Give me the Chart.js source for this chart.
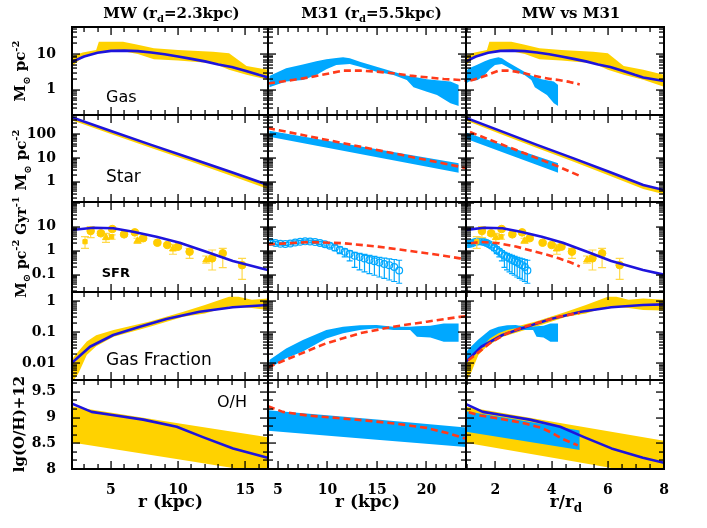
<!DOCTYPE html>
<html><head><meta charset="utf-8">
<script src="https://cdn.jsdelivr.net/npm/chart.js@4.4.0/dist/chart.umd.min.js"></script>
<style>
html,body{margin:0;padding:0;background:#fff;}
#wrap{position:relative;width:707px;height:528px;overflow:hidden;background:#fff;}
#wrap canvas{position:absolute;left:0;top:0;}
</style></head><body><div id="wrap"></div>
<script>
// ================= DATA =================
const RD_MW = 2.3, RD_M31 = 5.5;

// --- Gas surface density (Msun/pc^2)
const mwGasR      = [2.0, 3.0, 4.0, 5.0, 6.0, 7.0, 8.0, 9.0, 10.0, 11.0, 12.0, 13.0, 14.0, 15.0, 16.0, 16.7, 18.4];
const mwGasModel  = [5.8, 8.5, 10.8, 12.2, 12.4, 12.0, 11.0, 9.8, 8.5, 7.3, 6.2, 5.1, 4.3, 3.4, 2.6, 2.2, 1.75];
const mwGasObsR   = [2.0, 2.9, 3.9, 4.1, 5.9, 7.0, 8.2, 10.0, 12.6, 13.8, 15.1, 16.7, 18.4];
const mwGasObsHi  = [8.5, 11, 13, 22, 22, 18, 14.5, 13, 11.5, 10.5, 4.6, 3.6, 2.6];
const mwGasObsLo  = [4.3, 8, 10.5, 11, 12, 10, 7.1, 6.6, 5.5, 3.6, 2.6, 1.9, 1.2];
const m31GasObsR  = [4.13, 5.83, 7.52, 8.88, 9.89, 10.9, 11.58, 12.26, 13.28, 14.97, 16.67, 18.02, 18.7, 20.05, 21.07, 22.43, 23.27];
const m31GasObsHi = [2.42, 3.97, 5.1, 6.3, 7.08, 7.7, 8.07, 7.56, 6.1, 4.42, 3.2, 2.5, 2.3, 1.95, 1.85, 1.7, 1.35];
const m31GasObsLo = [1.17, 1.68, 1.87, 2.58, 3.72, 4.92, 5.1, 5.2, 4.42, 3.2, 2.58, 1.87, 1.17, 0.88, 0.71, 0.416, 0.35];
const m31GasR     = [4.0, 6.5, 8.2, 9.89, 11.58, 13.28, 14.97, 16.67, 18.36, 20.05, 21.75, 23.38, 25.5, 27.5];
const m31GasModel = [1.48, 1.87, 2.22, 2.75, 3.41, 3.41, 3.2, 2.87, 2.47, 2.22, 1.99, 1.87, 1.65, 1.4];

// --- Stellar surface density
const mwStarR      = [2.0, 5.0, 8.0, 11.0, 14.0, 16.7, 18.4];
const mwStarModel  = [520, 135, 35, 9.5, 2.5, 0.73, 0.45];
const mwStarObsHi  = [540, 140, 36, 9.8, 2.6, 0.76, 0.47];
const mwStarObsLo  = [400, 100, 26, 6.8, 1.75, 0.5, 0.3];
const m31StarObsR  = [4.13, 13.7, 23.27];
const m31StarObsHi = [137, 28.5, 5.9];
const m31StarObsLo = [77, 13.6, 2.4];
const m31StarR     = [4.0, 10.0, 16.0, 23.38, 27.5];
const m31StarModel = [178, 56, 17.7, 4.26, 1.75];

// --- SFR surface density
const mwSfrR      = [2.0, 3.68, 5.17, 6.65, 8.39, 10.12, 12.1, 14.08, 16.68, 18.4];
const mwSfrModel  = [7.2, 9.1, 8.6, 6.2, 3.8, 2.15, 0.91, 0.37, 0.157, 0.1];
const mwSfrCircR  = [3.49, 4.25, 5.1, 5.98, 6.78, 7.4, 8.46, 9.2, 10.0, 10.86, 12.54, 13.33, 14.77];
const mwSfrCirc   = [6.6, 5.3, 8.0, 4.8, 5.8, 3.3, 2.15, 1.73, 1.47, 0.91, 0.48, 0.78, 0.25];
const mwSfrCircLo = [3.5, 4.3, 6.8, 4.2, 5.0, 2.9, 1.9, 1.5, 1.3, 0.48, 0.157, 0.196, 0.064];
const mwSfrCircHi = [10, 6.4, 9.4, 5.5, 6.7, 3.8, 2.45, 2.0, 1.65, 1.26, 1.07, 1.26, 0.48];
const mwSfrTriR   = [4.63, 6.98, 9.62, 12.1];
const mwSfrTri    = [3.5, 2.6, 1.18, 0.41];
const mwSfrTriLo  = [2.24, 2.0, 0.71, 0.3];
const mwSfrTriHi  = [5.3, 3.3, 1.85, 0.6];
const mwSfrSqR    = [3.07, 5.05];
const mwSfrSq     = [2.37, 3.8];
const mwSfrSqLo   = [1.26, 3.0];
const mwSfrSqHi   = [3.83, 4.6];
const m31SfrObsR  = [4.25, 4.75, 5.25, 5.75, 6.25, 6.75, 7.25, 7.75, 8.25, 8.75, 9.25, 9.75, 10.25, 10.75, 11.25, 11.75, 12.25, 12.75, 13.25, 13.75, 14.25, 14.75, 15.25, 15.75, 16.25, 16.75, 17.25];
const m31SfrObs   = [2.3, 2.1, 1.95, 1.9, 2.0, 2.2, 2.35, 2.45, 2.4, 2.3, 2.1, 1.85, 1.6, 1.35, 1.1, 0.9, 0.75, 0.62, 0.55, 0.47, 0.41, 0.36, 0.32, 0.28, 0.25, 0.21, 0.15];
const m31SfrObsLo = [1.95, 1.8, 1.7, 1.65, 1.75, 1.9, 2.05, 2.15, 2.1, 2.0, 1.8, 1.55, 1.3, 1.0, 0.75, 0.55, 0.38, 0.2, 0.16, 0.13, 0.11, 0.095, 0.08, 0.07, 0.06, 0.052, 0.044];
const m31SfrObsHi = [2.7, 2.45, 2.25, 2.2, 2.3, 2.55, 2.7, 2.8, 2.75, 2.65, 2.45, 2.2, 1.95, 1.7, 1.45, 1.2, 1.0, 0.85, 0.78, 0.7, 0.64, 0.58, 0.53, 0.49, 0.46, 0.43, 0.4];
const m31SfrR     = [4.0, 6.5, 8.2, 11.58, 14.97, 18.36, 21.75, 23.38, 25.5, 27.5];
const m31SfrModel = [1.83, 2.1, 2.3, 2.05, 1.5, 0.97, 0.62, 0.48, 0.34, 0.22];

// --- Gas fraction
const mwFgR       = [2.0, 3.44, 5.17, 7.15, 9.13, 11.6, 14.08, 16.68, 18.4];
const mwFgModel   = [0.0095, 0.034, 0.081, 0.15, 0.264, 0.45, 0.63, 0.74, 0.78];
const mwFgObsR    = [2.0, 2.6, 3.2, 3.9, 5.2, 7.9, 10.4, 12.0, 13.8, 14.5, 15.5, 16.7, 18.4];
const mwFgObsHi   = [0.012, 0.025, 0.05, 0.08, 0.117, 0.22, 0.45, 0.74, 1.37, 1.37, 1.1, 1.2, 1.1];
const mwFgObsLo   = [0.002, 0.005, 0.0185, 0.035, 0.071, 0.15, 0.31, 0.40, 0.66, 0.64, 0.6, 0.51, 0.5];
const m31FgObsR   = [4.13, 5.83, 7.52, 9.89, 11.58, 13.28, 14.97, 16.67, 18.36, 19.04, 20.4, 21.75, 23.27];
const m31FgObsHi  = [0.0128, 0.03, 0.056, 0.117, 0.15, 0.167, 0.17, 0.15, 0.15, 0.155, 0.16, 0.19, 0.19];
const m31FgObsLo  = [0.0069, 0.0145, 0.024, 0.063, 0.092, 0.117, 0.133, 0.117, 0.117, 0.071, 0.067, 0.049, 0.049];
const m31FgR      = [4.0, 6.5, 9.89, 13.28, 16.67, 20.05, 23.38, 27.5];
const m31FgModel  = [0.0075, 0.016, 0.044, 0.092, 0.15, 0.217, 0.31, 0.42];

// --- Metallicity 12+log(O/H)
const mwOhR       = [2.0, 3.56, 5.1, 7.4, 9.9, 11.85, 14.1, 16.67, 18.4];
const mwOhModel   = [9.28, 9.11, 9.05, 8.96, 8.82, 8.62, 8.40, 8.22, 8.12];
const mwOhObsR    = [2.0, 10.0, 18.4];
const mwOhObsHi   = [9.22, 8.89, 8.55];
const mwOhObsLo   = [8.52, 8.19, 7.84];
const m31OhObsR   = [3.5, 15.0, 27.5];
const m31OhObsHi  = [9.15, 8.96, 8.75];
const m31OhObsLo  = [8.75, 8.57, 8.37];
const m31OhR      = [4.0, 5.5, 8.0, 11.0, 14.0, 17.0, 20.0, 22.3, 24.0, 27.1];
const m31OhModel  = [9.22, 9.11, 9.04, 8.99, 8.94, 8.88, 8.80, 8.69, 8.59, 8.46];

// --- axes / ticks
const xRanges   = [[2.1, 16.7], [4, 24], [0.95, 8]];
const xLabels   = [[5, 10, 15], [5, 10, 15, 20], [2, 4, 6, 8]];
const yRanges   = [[0.195, 57], [0.141, 627], [0.019, 107], [0.00291, 1.945], [8, 9.73]];
const yLabels   = [[1, 10], [1, 10, 100], [0.1, 1, 10], [0.01, 0.1, 1], [8, 8.5, 9, 9.5]];
const yLog      = [true, true, true, true, false];

// ================= LAYOUT =================
const W = 707, H = 528;
const E = [72, 268, 466, 664];           // column edges
const R = [27, 115, 202, 292, 380, 469]; // row edges
const SERIF = '"DejaVu Serif", serif', SANS = '"DejaVu Sans", sans-serif';
const COL = {gold:'#ffd200', cyan:'#00a8ff', blue:'#1e14dc', red:'#ff3a1a', goldPt:'#ffcc00', goldErr:'#ffd94a'};

function pts(rs, vs, s) { return rs.map((r, i) => ({x: r / s, y: vs[i]})); }
function band(rs, hi, lo, color, s, order) {
  return [
    {data: pts(rs, hi, s), borderColor: 'rgba(0,0,0,0)', borderWidth: 0, pointRadius: 0, fill: '+1', backgroundColor: color, order},
    {data: pts(rs, lo, s), borderColor: 'rgba(0,0,0,0)', borderWidth: 0, pointRadius: 0, fill: false, backgroundColor: color, order}
  ];
}
function model(rs, vs, s, color, dash, order) {
  return {data: pts(rs, vs, s), borderColor: color, borderWidth: 2.6, borderDash: dash, pointRadius: 0,
          fill: false, order, borderCapStyle: 'butt', borderJoinStyle: 'round'};
}
function obs(rs, vs, lo, hi, s, o) {
  return {data: pts(rs, vs, s), showLine: false, pointRadius: o.r, pointStyle: o.style,
          pointBackgroundColor: o.fillC, pointBorderColor: o.lineC, pointBorderWidth: o.bw,
          errLo: lo, errHi: hi, errColor: o.errC, capW: o.cap, order: o.order};
}

const goldCirc = {r: 3.8, style: 'circle', fillC: COL.goldPt, lineC: COL.goldPt, bw: 1, errC: COL.goldErr, cap: 4, order: 2};
const goldTri  = {r: 4, style: 'triangle', fillC: COL.goldPt, lineC: COL.goldPt, bw: 1, errC: COL.goldErr, cap: 4, order: 2};
const goldSq   = {r: 3, style: 'rect', fillC: COL.goldPt, lineC: COL.goldPt, bw: 1, errC: COL.goldErr, cap: 4, order: 2};
const cyanCirc = {r: 3.4, style: 'circle', fillC: 'rgba(0,0,0,0)', lineC: COL.cyan, bw: 1.2, errC: COL.cyan, cap: 3, order: 3};

function buildDatasets(row, col) {
  const sMW = col === 2 ? RD_MW : 1, sM = col === 2 ? RD_M31 : 1;
  const useMW = col !== 1, useM = col !== 0;
  const ds = [];
  const blue = [], red = [];
  if (row === 0) {
    if (useMW) { ds.push(...band(mwGasObsR, mwGasObsHi, mwGasObsLo, COL.gold, sMW, 5)); blue.push(model(mwGasR, mwGasModel, sMW, COL.blue, [], 1)); }
    if (useM)  { ds.push(...band(m31GasObsR, m31GasObsHi, m31GasObsLo, COL.cyan, sM, 4)); red.push(model(m31GasR, m31GasModel, sM, COL.red, [7, 4], 0)); }
  } else if (row === 1) {
    if (useMW) { ds.push(...band(mwStarR, mwStarObsHi, mwStarObsLo, COL.gold, sMW, 5)); blue.push(model(mwStarR, mwStarModel, sMW, COL.blue, [], 1)); }
    if (useM)  { ds.push(...band(m31StarObsR, m31StarObsHi, m31StarObsLo, COL.cyan, sM, 4)); red.push(model(m31StarR, m31StarModel, sM, COL.red, [7, 4], 0)); }
  } else if (row === 2) {
    if (useMW) {
      ds.push(obs(mwSfrCircR, mwSfrCirc, mwSfrCircLo, mwSfrCircHi, sMW, goldCirc));
      ds.push(obs(mwSfrTriR, mwSfrTri, mwSfrTriLo, mwSfrTriHi, sMW, goldTri));
      ds.push(obs(mwSfrSqR, mwSfrSq, mwSfrSqLo, mwSfrSqHi, sMW, goldSq));
      blue.push(model(mwSfrR, mwSfrModel, sMW, COL.blue, [], 1));
    }
    if (useM) {
      ds.push(obs(m31SfrObsR, m31SfrObs, m31SfrObsLo, m31SfrObsHi, sM, cyanCirc));
      red.push(model(m31SfrR, m31SfrModel, sM, COL.red, [7, 4], 0));
    }
  } else if (row === 3) {
    if (useMW) { ds.push(...band(mwFgObsR, mwFgObsHi, mwFgObsLo, COL.gold, sMW, 5)); blue.push(model(mwFgR, mwFgModel, sMW, COL.blue, [], 1)); }
    if (useM)  { ds.push(...band(m31FgObsR, m31FgObsHi, m31FgObsLo, COL.cyan, sM, 4)); red.push(model(m31FgR, m31FgModel, sM, COL.red, [7, 4], 0)); }
  } else {
    if (useMW) { ds.push(...band(mwOhObsR, mwOhObsHi, mwOhObsLo, COL.gold, sMW, 5)); blue.push(model(mwOhR, mwOhModel, sMW, COL.blue, [], 1)); }
    if (useM)  { ds.push(...band(m31OhObsR, m31OhObsHi, m31OhObsLo, COL.cyan, sM, 4)); red.push(model(m31OhR, m31OhModel, sM, COL.red, [7, 4], 0)); }
  }
  return ds.concat(blue, red);
}

// ---- tick helpers (inward tick marks)
function logTicks(lo, hi) {
  const out = [];
  for (let e = Math.floor(Math.log10(lo)); e <= Math.ceil(Math.log10(hi)); e++) {
    for (let k = 1; k <= 9; k++) {
      const v = k * Math.pow(10, e);
      if (v > lo * 1.0001 && v < hi * 0.9999) out.push({v, major: k === 1});
    }
  }
  return out;
}
function linTicks(lo, hi, maj, mn) {
  const out = [];
  const n0 = Math.ceil(lo / mn - 1e-9), n1 = Math.floor(hi / mn + 1e-9);
  for (let n = n0; n <= n1; n++) {
    const v = n * mn;
    if (v <= lo + 1e-9 || v >= hi - 1e-9) continue;
    out.push({v, major: Math.abs(v / maj - Math.round(v / maj)) < 1e-6});
  }
  return out;
}
const xTickCfg = [[5, 1], [5, 1], [2, 0.5]];

function drawRich(ctx, it) {
  ctx.save();
  ctx.translate(it.x, it.y);
  if (it.rot) ctx.rotate(it.rot * Math.PI / 180);
  const fontFor = p => `${it.weight || 'normal'} ${(p.sub || p.sup) ? Math.round(it.size * 0.68) : it.size}px ${it.family}`;
  let total = 0; const ws = [];
  it.parts.forEach(p => { ctx.font = fontFor(p); const w = ctx.measureText(p.t).width; ws.push(w); total += w; });
  let x0 = it.align === 'center' ? -total / 2 : 0;
  ctx.fillStyle = '#000'; ctx.textBaseline = 'alphabetic'; ctx.textAlign = 'left';
  it.parts.forEach((p, i) => {
    ctx.font = fontFor(p);
    const dy = p.sub ? it.size * 0.32 : (p.sup ? -it.size * 0.45 : 0);
    ctx.fillText(p.t, x0, dy);
    x0 += ws[i];
  });
  ctx.restore();
}

function textsFor(row, col) {
  const t = [];
  const B = {family: SERIF, weight: 'bold', align: 'center'};
  if (row === 0) {
    const titles = [
      {x: 171.5, parts: [{t: 'MW (r'}, {t: 'd', sub: true}, {t: '=2.3kpc)'}]},
      {x: 371.5, parts: [{t: 'M31 (r'}, {t: 'd', sub: true}, {t: '=5.5kpc)'}]},
      {x: 571, parts: [{t: 'MW vs M31'}]}
    ];
    t.push(Object.assign({}, B, {y: 17.5, size: 15}, titles[col]));
  }
  if (row === 4) {
    const xt = [
      {x: 170.5, parts: [{t: 'r (kpc)'}]},
      {x: 367.5, parts: [{t: 'r (kpc)'}]},
      {x: 566, parts: [{t: 'r/r'}, {t: 'd', sub: true}]}
    ];
    t.push(Object.assign({}, B, {y: 507, size: 17}, xt[col]));
  }
  if (col === 0) {
    const mpc = [{t: 'M'}, {t: '⊙', sub: true}, {t: ' pc'}, {t: '-2', sup: true}];
    const yl = [
      {cx: 20, cy: 71, size: 15, parts: mpc},
      {cx: 20.5, cy: 160, size: 15, parts: mpc},
      {cx: 20.5, cy: 247, size: 14, parts: mpc.concat([{t: ' Gyr'}, {t: '-1', sup: true}])},
      null,
      {cx: 19, cy: 424, size: 15, parts: [{t: 'lg(O/H)+12'}]}
    ][row];
    if (yl) t.push(Object.assign({}, B, {x: yl.cx + yl.size * 0.36, y: yl.cy, rot: -90, size: yl.size, parts: yl.parts}));
    const pl = [
      {x: 106, y: 101.7, size: 16, weight: 'normal', t: 'Gas'},
      {x: 106, y: 181.7, size: 17, weight: 'normal', t: 'Star'},
      {x: 101.7, y: 276.7, size: 13, weight: 'bold', t: 'SFR'},
      {x: 106, y: 365, size: 17, weight: 'normal', t: 'Gas Fraction'},
      {x: 217, y: 406.7, size: 16, weight: 'normal', t: 'O/H'}
    ][row];
    t.push({x: pl.x, y: pl.y, size: pl.size, weight: pl.weight, family: SANS, align: 'left', parts: [{t: pl.t}]});
  }
  return t;
}

function makePanel(row, col) {
  const cv = document.createElement('canvas');
  cv.width = W; cv.height = H;
  document.getElementById('wrap').appendChild(cv);
  const isLeft = col === 0, isBottom = row === 4;
  const padding = {
    left: isLeft ? 0 : E[col],
    right: W - E[col + 1],
    top: R[row],
    bottom: isBottom ? 0 : H - R[row + 1]
  };
  const tickFont = {family: 'DejaVu Serif', size: 14, weight: 'bold'};
  const [ylo, yhi] = yRanges[row];
  const [xlo, xhi] = xRanges[col];
  const texts = textsFor(row, col);

  const panelPlugin = {
    id: 'panel' + row + col,
    beforeDatasetDraw(chart, args) {
      const d = chart.data.datasets[args.index];
      if (!d.errLo) return;
      const ctx = chart.ctx, xs = chart.scales.x, ys = chart.scales.y, a = chart.chartArea;
      ctx.save();
      ctx.beginPath(); ctx.rect(a.left, a.top, a.right - a.left, a.bottom - a.top); ctx.clip();
      ctx.strokeStyle = d.errColor; ctx.lineWidth = 1.2; ctx.setLineDash([]);
      ctx.beginPath();
      d.data.forEach((p, i) => {
        const px = xs.getPixelForValue(p.x);
        const y1 = ys.getPixelForValue(d.errLo[i]), y2 = ys.getPixelForValue(d.errHi[i]);
        ctx.moveTo(px, y1); ctx.lineTo(px, y2);
        ctx.moveTo(px - d.capW, y1); ctx.lineTo(px + d.capW, y1);
        ctx.moveTo(px - d.capW, y2); ctx.lineTo(px + d.capW, y2);
      });
      ctx.stroke();
      ctx.restore();
    },
    afterDraw(chart) {
      const ctx = chart.ctx, xs = chart.scales.x, ys = chart.scales.y, a = chart.chartArea;
      const top = Math.round(a.top), bot = Math.round(a.bottom), lef = Math.round(a.left), rig = Math.round(a.right);
      ctx.save();
      ctx.fillStyle = '#000';
      linTicks(xlo, xhi, xTickCfg[col][0], xTickCfg[col][1]).forEach(tk => {
        const px = Math.round(xs.getPixelForValue(tk.v)), L = tk.major ? 8 : 5;
        ctx.fillRect(px - 0.6, top, 1.3, L);
        ctx.fillRect(px - 0.6, bot - L, 1.3, L);
      });
      const yt = yLog[row] ? logTicks(ylo, yhi) : linTicks(ylo, yhi, 0.5, 0.5 / 3);
      yt.forEach(tk => {
        const py = Math.round(ys.getPixelForValue(tk.v)), L = tk.major ? 8 : 5;
        ctx.fillRect(lef, py - 0.6, L, 1.3);
        ctx.fillRect(rig - L, py - 0.6, L, 1.3);
      });
      ctx.strokeStyle = '#000'; ctx.setLineDash([]);
      ctx.lineWidth = 2;
      ctx.strokeRect(a.left, a.top, a.right - a.left, a.bottom - a.top);
      ctx.restore();
      texts.forEach(it => drawRich(ctx, it));
    }
  };

  new Chart(cv, {
    type: 'line',
    data: {datasets: buildDatasets(row, col)},
    options: {
      animation: false, responsive: false, devicePixelRatio: 1, events: [],
      layout: {padding},
      elements: {line: {tension: 0}},
      plugins: {legend: {display: false}, tooltip: {enabled: false}, title: {display: false}},
      scales: {
        x: {
          type: 'linear', min: xlo, max: xhi, display: isBottom,
          grid: {display: false}, border: {display: false},
          afterFit: s => { s.height = isBottom ? H - R[5] : 0; },
          afterBuildTicks: s => { s.ticks = xLabels[col].map(v => ({value: v})); },
          ticks: {font: tickFont, color: '#000', padding: 5, maxRotation: 0, autoSkip: false, callback: v => String(v)}
        },
        y: {
          type: yLog[row] ? 'logarithmic' : 'linear', min: ylo, max: yhi, display: isLeft,
          grid: {display: false}, border: {display: false},
          afterFit: s => { s.width = isLeft ? E[0] : 0; },
          afterBuildTicks: s => { s.ticks = yLabels[row].map(v => ({value: v})); },
          ticks: {font: tickFont, color: '#000', padding: 8, autoSkip: false, callback: v => String(v)}
        }
      }
    },
    plugins: [panelPlugin]
  });
}

for (let row = 0; row < 5; row++) for (let col = 0; col < 3; col++) makePanel(row, col);
</script>
</body></html>
